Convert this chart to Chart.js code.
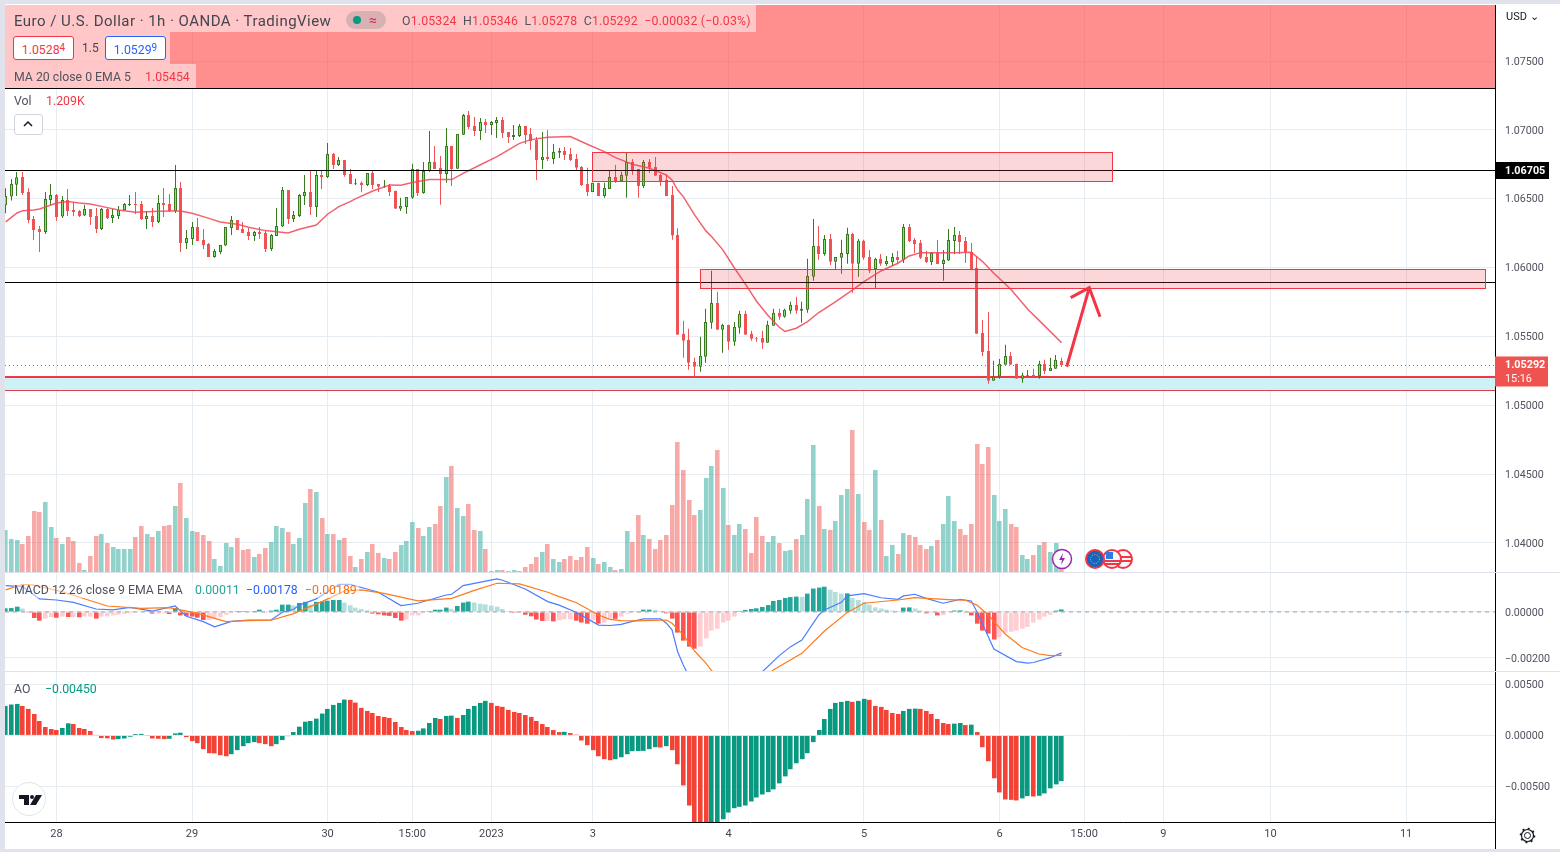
<!DOCTYPE html>
<html>
<head>
<meta charset="utf-8">
<title>EURUSD 1h</title>
<script src="https://cdn.jsdelivr.net/npm/chart.js@4"></script>
<style>
  html, body { margin: 0; padding: 0; background: #fff; overflow: hidden; }
  body { width: 1560px; height: 852px; position: relative; font-family: Roboto, sans-serif; color: #50535e; }
  canvas { position: absolute; left: 0; }
  .abs { position: absolute; white-space: nowrap; }
  .txt { font-size: 12.3px; line-height: 16px; }
  .red { color: #f23645; }
  .strip { position: absolute; background: #e0e3eb; }
  .sup { font-size: 10px; vertical-align: 3px; }
</style>
</head>
<body>
<canvas id="mainChart" width="1560" height="572" style="top:0"></canvas>
<canvas id="macdChart" width="1560" height="99" style="top:572px"></canvas>
<canvas id="aoChart" width="1560" height="180" style="top:672px"></canvas>

<div class="strip" style="left:0;top:0;width:5px;height:852px"></div>
<div class="strip" style="left:0;top:0;width:1560px;height:4px"></div>
<div class="strip" style="left:0;top:849px;width:1560px;height:3px"></div>
<div class="strip" style="left:5px;top:572px;width:1555px;height:1px"></div>
<div class="strip" style="left:5px;top:671px;width:1555px;height:1px"></div>
<div class="abs" style="left:1495px;top:822px;width:1px;height:27px;background:#000"></div>

<div class="abs" style="left:5px;top:5px;width:751px;height:27px;background:rgba(255,255,255,.5)"></div>
<div class="abs" style="left:5px;top:32px;width:165px;height:32px;background:rgba(255,255,255,.5)"></div>
<div class="abs" style="left:5px;top:64px;width:191px;height:24px;background:rgba(255,255,255,.5)"></div>

<div class="abs" style="left:14px;top:12px;font-size:15px;line-height:18px;letter-spacing:.47px;color:#434651">Euro / U.S. Dollar · 1h · OANDA · TradingView</div>
<div class="abs" style="left:346px;top:11px;width:40px;height:18px;border-radius:9px;background:rgba(200,170,170,.7)"></div>
<div class="abs" style="left:353px;top:16px;width:8px;height:8px;border-radius:4px;background:#089981"></div>
<div class="abs red" style="left:369px;top:11px;font-size:14px;line-height:18px;color:#e91e63">≈</div>
<div class="abs txt" style="left:402px;top:13px;color:#50535e;letter-spacing:.18px">O<span class="red">1.05324</span>&nbsp; H<span class="red">1.05346</span>&nbsp; L<span class="red">1.05278</span>&nbsp; C<span class="red">1.05292</span>&nbsp; <span class="red">−0.00032 (−0.03%)</span></div>

<div class="abs txt red" style="left:13px;top:36px;width:59px;height:22px;line-height:22px;text-align:center;background:#fff;border:1px solid #f23645;border-radius:3px">1.0528<span class="sup">4</span></div>
<div class="abs" style="left:82px;top:40px;font-size:12px;line-height:16px;color:#434651">1.5</div>
<div class="abs txt" style="left:105px;top:36px;width:59px;height:22px;line-height:22px;text-align:center;background:#fff;border:1px solid #2962ff;border-radius:3px;color:#2962ff">1.0529<span class="sup">9</span></div>
<div class="abs txt" style="left:14px;top:69px">MA 20 close 0 EMA 5</div>
<div class="abs txt red" style="left:145px;top:69px">1.05454</div>

<div class="abs txt" style="left:14px;top:93px">Vol</div>
<div class="abs txt red" style="left:46px;top:93px">1.209K</div>
<div class="abs" style="left:14px;top:114px;width:27px;height:19px;border:1px solid #d1d4dc;border-radius:3px;background:#fff"></div>
<svg class="abs" style="left:22px;top:120px" width="12" height="8"><path d="M2 6 L6 2 L10 6" fill="none" stroke="#131722" stroke-width="1.5"/></svg>

<div class="abs" style="left:1506px;top:10px;font-size:11px;line-height:14px;color:#131722">USD ⌄</div>

<div class="abs" style="left:14px;top:582px;width:345px;height:16px;background:rgba(255,255,255,.5)"></div>
<div class="abs txt" style="left:14px;top:582px">MACD 12 26 close 9 EMA EMA</div>
<div class="abs txt" style="left:195px;top:582px;color:#26a69a">0.00011</div>
<div class="abs txt" style="left:246px;top:582px;color:#2962ff">−0.00178</div>
<div class="abs txt" style="left:305px;top:582px;color:#ff6d00">−0.00189</div>
<div class="abs txt" style="left:14px;top:681px">AO</div>
<div class="abs txt" style="left:45px;top:681px;color:#089981">−0.00450</div>

<svg class="abs" style="left:1051px;top:548px" width="84" height="22">
  <circle cx="11" cy="11" r="9.5" fill="#fff" stroke="#9c27b0" stroke-width="1.5"/>
  <path d="M12 5 L8 12 L11 12 L10 17 L14 10 L11 10 Z" fill="#9c27b0"/>
  <circle cx="72" cy="11" r="9" fill="#f7f7f7" stroke="#f23645" stroke-width="2"/>
  <path d="M64 9 H80 M64 13 H80" stroke="#f23645" stroke-width="2"/>
  <circle cx="61" cy="11" r="9" fill="#f7f7f7" stroke="#f23645" stroke-width="2"/>
  <path d="M53 13 H69 M54 16 H68" stroke="#f23645" stroke-width="2"/>
  <rect x="55" y="4" width="7" height="7" fill="#2a7de1"/>
  <circle cx="44" cy="11" r="9" fill="#1565c0" stroke="#f23645" stroke-width="2"/>
  <circle cx="44" cy="11" r="4.5" fill="none" stroke="#fbc02d" stroke-width="1" stroke-dasharray="1 1.5"/>
</svg>

<svg class="abs" style="left:12px;top:782px" width="34" height="34">
  <circle cx="17" cy="17" r="16.5" fill="#fff" stroke="#e0e3eb"/>
  <path d="M7 13 H17 V23 H12 V17 H7 Z M24 13 H30 L24 23 H18 Z" fill="#131722"/>
  <circle cx="20" cy="15" r="2" fill="#131722"/>
</svg>

<svg class="abs" style="left:1519px;top:827px" width="17" height="17">
  <circle cx="8.5" cy="8.5" r="3" fill="none" stroke="#131722"/>
  <circle cx="8.5" cy="8.5" r="6" fill="none" stroke="#131722" stroke-width="1.2"/>
  <circle cx="8.5" cy="8.5" r="7" fill="none" stroke="#131722" stroke-width="1.6" stroke-dasharray="2 3.5"/>
</svg>

<script>
const open = [
  1.06453,1.06516,1.06603,1.06659,1.06550,1.06354,1.06281,1.06259,1.06492,1.06528,
  1.06371,1.06492,1.06419,1.06412,1.06378,1.06426,1.06375,1.06281,1.06426,1.06361,
  1.06375,1.06417,1.06455,1.06463,1.06463,1.06354,1.06375,1.06332,1.06470,1.06463,
  1.06412,1.06579,1.06179,1.06208,1.06296,1.06201,1.06172,1.06078,1.06114,1.06160,
  1.06288,1.06346,1.06281,1.06259,1.06230,1.06259,1.06252,1.06136,1.06230,1.06298,
  1.06564,1.06354,1.06375,1.06521,1.06550,1.06441,1.06673,1.06659,1.06826,1.06746,
  1.06782,1.06681,1.06606,1.06616,1.06601,1.06688,1.06608,1.06587,1.06594,1.06558,
  1.06427,1.06441,1.06507,1.06717,1.06543,1.06700,1.06768,1.06725,1.06681,1.06884,
  1.06719,1.06966,1.07109,1.07029,1.06993,1.07058,1.07036,1.07051,1.07072,1.06985,
  1.06949,1.06957,1.07029,1.06971,1.06927,1.06782,1.06804,1.06790,1.06834,1.06848,
  1.06826,1.06790,1.06732,1.06608,1.06550,1.06616,1.06521,1.06572,1.06659,1.06630,
  1.06667,1.06768,1.06717,1.06594,1.06768,1.06732,1.06674,1.06637,1.06528,1.06238,
  1.05519,1.05476,1.05316,1.05280,1.05352,1.05599,1.05744,1.05548,1.05585,1.05461,
  1.05563,1.05665,1.05519,1.05490,1.05490,1.05454,1.05577,1.05672,1.05643,1.05686,
  1.05730,1.05686,1.05694,1.05933,1.06158,1.06100,1.06209,1.06042,1.06071,1.06100,
  1.06245,1.06028,1.06195,1.06078,1.05991,1.06064,1.06027,1.06041,1.06078,1.06056,
  1.06296,1.06201,1.06179,1.06078,1.06041,1.06107,1.06027,1.06051,1.06194,1.06237,
  1.06194,1.06114,1.05998,1.05526,1.05395,1.05178,1.05209,1.05294,1.05359,1.05301,
  1.05192,1.05211,1.05221,1.05211,1.05301,1.05250,1.05265,1.05324
];
const high = [
  1.06576,1.06644,1.06695,1.06695,1.06576,1.06375,1.06303,1.06550,1.06608,1.06535,
  1.06521,1.06571,1.06472,1.06419,1.06455,1.06426,1.06434,1.06434,1.06431,1.06426,
  1.06448,1.06470,1.06528,1.06550,1.06484,1.06412,1.06434,1.06528,1.06579,1.06535,
  1.06746,1.06622,1.06274,1.06332,1.06361,1.06281,1.06179,1.06136,1.06165,1.06296,
  1.06375,1.06346,1.06332,1.06288,1.06267,1.06296,1.06267,1.06245,1.06434,1.06586,
  1.06564,1.06412,1.06535,1.06673,1.06709,1.06702,1.06709,1.06905,1.06833,1.06804,
  1.06782,1.06717,1.06645,1.06625,1.06688,1.06710,1.06608,1.06637,1.06608,1.06558,
  1.06507,1.06514,1.06754,1.06717,1.06768,1.06993,1.06884,1.06811,1.07015,1.06884,
  1.06971,1.07116,1.07138,1.07094,1.07087,1.07080,1.07065,1.07094,1.07094,1.06985,
  1.07036,1.07043,1.07029,1.07015,1.06949,1.06985,1.07000,1.06898,1.06870,1.06877,
  1.06870,1.06826,1.06739,1.06725,1.06616,1.06616,1.06616,1.06710,1.06746,1.06696,
  1.06834,1.06790,1.06717,1.06782,1.06790,1.06804,1.06681,1.06673,1.06594,1.06286,
  1.05614,1.05556,1.05345,1.05498,1.05701,1.05977,1.05824,1.05592,1.05585,1.05606,
  1.05686,1.05686,1.05541,1.05497,1.05541,1.05614,1.05701,1.05701,1.05701,1.05752,
  1.05788,1.05752,1.06064,1.06354,1.06303,1.06238,1.06245,1.06078,1.06202,1.06289,
  1.06253,1.06209,1.06202,1.06129,1.06071,1.06100,1.06085,1.06107,1.06121,1.06317,
  1.06317,1.06216,1.06201,1.06121,1.06114,1.06201,1.06129,1.06281,1.06296,1.06267,
  1.06223,1.06179,1.06085,1.05620,1.05678,1.05323,1.05337,1.05439,1.05388,1.05301,
  1.05236,1.05257,1.05265,1.05323,1.05330,1.05345,1.05366,1.05346
];
const low = [
  1.06395,1.06487,1.06521,1.06528,1.06322,1.06201,1.06114,1.06245,1.06455,1.06339,
  1.06361,1.06375,1.06375,1.06368,1.06375,1.06310,1.06252,1.06274,1.06354,1.06325,
  1.06354,1.06412,1.06448,1.06390,1.06346,1.06281,1.06296,1.06325,1.06368,1.06404,
  1.06397,1.06114,1.06136,1.06165,1.06194,1.06136,1.06078,1.06071,1.06100,1.06158,
  1.06237,1.06274,1.06252,1.06201,1.06194,1.06208,1.06114,1.06121,1.06230,1.06296,
  1.06317,1.06332,1.06368,1.06455,1.06383,1.06368,1.06571,1.06651,1.06717,1.06738,
  1.06661,1.06608,1.06601,1.06548,1.06594,1.06572,1.06550,1.06579,1.06521,1.06427,
  1.06412,1.06391,1.06500,1.06521,1.06536,1.06696,1.06717,1.06456,1.06616,1.06594,
  1.06717,1.06964,1.07007,1.06957,1.06927,1.06978,1.06964,1.06942,1.06942,1.06906,
  1.06927,1.06949,1.06898,1.06855,1.06637,1.06717,1.06775,1.06753,1.06797,1.06782,
  1.06775,1.06710,1.06594,1.06521,1.06550,1.06521,1.06507,1.06572,1.06616,1.06630,
  1.06507,1.06674,1.06507,1.06579,1.06688,1.06667,1.06594,1.06521,1.06202,1.05512,
  1.05345,1.05258,1.05205,1.05243,1.05309,1.05556,1.05548,1.05381,1.05403,1.05432,
  1.05519,1.05512,1.05469,1.05461,1.05410,1.05454,1.05577,1.05621,1.05636,1.05665,
  1.05665,1.05599,1.05672,1.05904,1.06057,1.06086,1.06020,1.05991,1.05955,1.06028,
  1.05817,1.05933,1.06057,1.05962,1.05853,1.06013,1.06012,1.06012,1.06034,1.06034,
  1.06187,1.06107,1.06063,1.06034,1.06020,1.06027,1.05904,1.06049,1.06100,1.06100,
  1.06034,1.05988,1.05519,1.05359,1.05156,1.05178,1.05192,1.05294,1.05294,1.05192,
  1.05163,1.05211,1.05204,1.05192,1.05228,1.05250,1.05265,1.05278
];
const close = [
  1.06521,1.06608,1.06656,1.06542,1.06346,1.06274,1.06259,1.06499,1.06528,1.06368,
  1.06492,1.06412,1.06404,1.06375,1.06426,1.06368,1.06281,1.06426,1.06361,1.06383,
  1.06419,1.06463,1.06460,1.06455,1.06354,1.06375,1.06332,1.06470,1.06455,1.06412,
  1.06579,1.06179,1.06216,1.06296,1.06194,1.06165,1.06078,1.06121,1.06165,1.06296,
  1.06346,1.06274,1.06252,1.06230,1.06259,1.06245,1.06136,1.06237,1.06303,1.06564,
  1.06354,1.06383,1.06528,1.06550,1.06441,1.06673,1.06659,1.06826,1.06746,1.06782,
  1.06673,1.06608,1.06613,1.06601,1.06688,1.06601,1.06587,1.06592,1.06550,1.06427,
  1.06449,1.06514,1.06717,1.06543,1.06703,1.06768,1.06717,1.06681,1.06884,1.06717,
  1.06971,1.07109,1.07022,1.06993,1.07058,1.07036,1.07058,1.07072,1.06978,1.06949,
  1.06964,1.07029,1.06964,1.06920,1.06782,1.06804,1.06790,1.06841,1.06848,1.06819,
  1.06782,1.06725,1.06601,1.06550,1.06616,1.06521,1.06579,1.06659,1.06623,1.06674,
  1.06768,1.06710,1.06594,1.06768,1.06725,1.06667,1.06623,1.06521,1.06233,1.05512,
  1.05469,1.05309,1.05280,1.05360,1.05606,1.05744,1.05548,1.05585,1.05461,1.05570,
  1.05665,1.05512,1.05483,1.05483,1.05454,1.05585,1.05672,1.05643,1.05694,1.05730,
  1.05686,1.05701,1.05940,1.06158,1.06100,1.06209,1.06042,1.06078,1.06107,1.06245,
  1.06028,1.06195,1.06071,1.05977,1.06064,1.06028,1.06049,1.06078,1.06056,1.06296,
  1.06194,1.06172,1.06071,1.06041,1.06107,1.06027,1.06056,1.06201,1.06237,1.06187,
  1.06114,1.05988,1.05519,1.05388,1.05178,1.05209,1.05301,1.05359,1.05294,1.05192,
  1.05219,1.05219,1.05211,1.05301,1.05250,1.05272,1.05330,1.05292
];
const volume = [
  4200,3300,3200,2800,3600,6100,6000,7000,4500,3400,
  2800,3500,3100,900,200,1600,3600,3800,2900,2500,
  2300,2300,2300,3500,4600,3800,3500,4100,4600,4700,
  6600,8900,5400,4100,4000,3700,3100,1300,600,2900,
  2500,3400,2200,2300,1500,1800,2400,3000,4600,4400,
  4000,2800,3400,6900,8300,8000,5400,3800,3800,3200,
  3400,1600,500,1300,2000,2800,1900,1400,1300,2000,
  2700,3100,5000,4400,3600,4500,4800,6600,9500,10600,
  6400,5600,6800,4200,4100,2300,100,200,200,100,
  200,100,500,800,1500,2000,2800,1300,1000,1300,
  1600,1200,1500,2500,1400,800,1000,500,200,300,
  4100,3000,5700,3700,3300,2300,3200,3700,6700,13000,
  10200,7200,5700,6200,9400,10600,12200,8400,4700,3700,
  4800,4300,1900,5500,3600,3000,3600,2900,2100,2200,
  3300,3700,7300,12700,6600,4300,4200,5100,7700,8300,
  14200,7800,5000,4200,10200,5200,1600,2700,1800,3900,
  3700,3500,2700,2300,2600,3200,4800,7600,5100,4300,
  3700,4800,12800,10800,12500,7700,5100,6300,4800,4500,
  1700,1300,1700,2700,3000,2000,2900,1209
];
const maIdx = [0,2,3,5,6,9,11,13,15,18,20,23,26,29,31,33,36,38,41,43,46,50,52,55,57,59,61,
  62,65,68,70,72,75,79,81,84,87,91,93,96,100,103,106,108,111,114,117,118,119,
  120,122,124,125,127,129,131,133,135,137,138,140,142,144,147,150,152,155,158,160,
  162,165,168,171,173,175,178,181,184,187];
const maVal = [1.06332,1.06397,1.06414,1.06419,1.06426,1.06470,1.06480,1.06470,1.06463,1.06436,1.06419,1.06402,1.06407,1.06412,1.06412,1.06395,1.06358,1.06332,1.06315,1.06293,1.06269,1.06252,1.06279,1.06310,1.06388,1.06443,1.06480,
  1.06501,1.06557,1.06601,1.06598,1.06618,1.06640,1.06640,1.06685,1.06746,1.06806,1.06903,1.06930,1.06947,1.06952,1.06896,1.06843,1.06799,1.06751,1.06722,1.06673,1.06637,1.06564,
  1.06516,1.06383,1.06267,1.06226,1.06129,1.06001,1.05880,1.05754,1.05652,1.05567,1.05536,1.05560,1.05608,1.05674,1.05754,1.05838,1.05899,1.05976,1.06032,1.06085,
  1.06109,1.06109,1.06109,1.06112,1.06044,1.05959,1.05843,1.05698,1.05577,1.05454];
const macdHist = [
  .00016,.00017,.00023,.00015,-.00001,-.00026,-.00038,-.00029,-.00022,-.00025,
  -.00020,-.00022,-.00022,-.00023,-.00020,-.00020,-.00029,-.00020,-.00019,-.00015,
  -.00012,-.00009,-.00006,-.00003,0,.00001,-.00007,-.00007,-.00006,-.00009,
  .00017,-.00015,-.00017,-.00020,-.00025,-.00035,-.00035,-.00029,-.00023,-.00012,
  -.00001,.00004,.00004,.00003,.00004,.00010,-.00003,.00006,.00010,.00032,
  .00032,.00028,.00039,.00044,.00032,.00044,.00046,.00049,.00052,.00052,
  .00041,.00029,.00019,.00013,.00007,-.00007,-.00010,-.00015,-.00017,-.00026,
  -.00038,-.00033,-.00015,-.00015,-.00003,.00004,.00010,.00010,.00019,.00013,
  .00026,.00041,.00045,.00041,.00036,.00033,.00028,.00023,.00013,.00003,
  -.00004,-.00004,-.00012,-.00019,-.00033,-.00039,-.00039,-.00041,-.00036,-.00032,
  -.00032,-.00038,-.00046,-.00051,-.00036,-.00051,-.00046,-.00029,-.00030,-.00020,
  -.00007,.00003,-.00003,.00010,.00010,.00009,.00004,-.00006,-.00029,-.00090,
  -.00125,-.00151,-.00160,-.00151,-.00115,-.00081,-.00073,-.00046,-.00038,-.00020,
  .00004,.00009,.00013,.00016,.00022,.00030,.00048,.00052,.00061,.00065,
  .00067,.00066,.00080,.00102,.00106,.00110,.00097,.00087,.00080,.00081,
  .00061,.00052,.00044,.00032,.00020,.00015,.00010,.00006,.00004,.00019,
  .00020,.00015,.00006,-.00006,-.00005,-.00015,-.00014,-.00003,.00006,.00007,
  -.00003,-.00015,-.00051,-.00081,-.00094,-.00120,-.00110,-.00090,-.00086,-.00081,
  -.00073,-.00065,-.00046,-.00033,-.00020,-.00012,.00006,.00011
];
const macdIdx = [0,3,6,9,12,16,19,22,26,30,32,35,37,40,43,47,49,51,52,55,57,59,61,64,66,70,73,78,79,81,87,88,92,96,98,
  101,105,107,109,111,113,116,117,118,119,120,121,124,128,132,134,137,139,141,144,145,148,149,152,155,158,159,161,163,166,169,171,172,174,175,179,181,182,185,187];
const macdVal = [.00115,.00110,.00057,.00052,.00042,.00013,.00009,.00020,.00004,.00026,-.00019,-.00042,-.00065,-.00041,-.00035,-.00035,-.00001,.00012,.00030,.00057,.00088,.00120,.00120,.00100,.00086,.00028,.00038,.00074,.00077,.00115,.00144,.00138,.00100,.00045,.00030,
  -.00001,-.00057,-.00059,-.00054,-.00041,-.00030,-.00030,-.00049,-.00078,-.00173,-.00231,-.00281,-.00360,-.00380,-.00320,-.00260,-.00190,-.00151,-.00122,-.00013,.00009,.00042,.00070,.00080,.00062,.00055,.00070,.00077,.00059,.00038,.00055,.00048,.00001,-.00107,-.00161,-.00216,-.00223,-.00220,-.00199,-.00178];
const signalIdx = [0,3,5,10,18,24,29,34,39,43,47,51,56,60,63,67,73,79,83,87,91,96,98,
  101,105,107,109,112,117,118,120,122,124,125,128,132,135,136,141,145,149,152,158,161,167,170,172,174,177,180,183,185,187];
const signalVal = [.00096,.00120,.00117,.00088,.00026,.00016,.00019,-.00006,-.00042,-.00038,-.00036,-.00007,.00045,.00091,.00096,.00081,.00048,.00059,.00094,.00125,.00122,.00086,.00067,
  .00041,-.00013,-.00032,-.00038,-.00039,-.00035,-.00049,-.00100,-.00170,-.00223,-.00255,-.00330,-.00310,-.00270,-.00252,-.00180,-.00083,-.00003,.00038,.00052,.00062,.00054,.00051,.00030,-.00013,-.00096,-.00155,-.00183,-.00190,-.00189];
const aoVal = [
  .00290,.00304,.00310,.00290,.00261,.00211,.00142,.00083,.00063,.00053,
  .00073,.00119,.00112,.00073,.00063,.00043,.00003,-.00026,-.00028,-.00040,
  -.00036,-.00030,-.00013,.00013,.00015,-.00003,-.00030,-.00033,-.00036,-.00033,
  .00020,.00026,-.00017,-.00056,-.00076,-.00135,-.00175,-.00177,-.00195,-.00205,
  -.00185,-.00145,-.00106,-.00076,-.00066,-.00076,-.00086,-.00106,-.00086,-.00046,
  -.00007,.00033,.00086,.00135,.00142,.00165,.00215,.00261,.00300,.00320,
  .00353,.00350,.00323,.00271,.00241,.00221,.00191,.00182,.00172,.00132,
  .00083,.00053,.00043,.00046,.00069,.00122,.00172,.00162,.00191,.00195,
  .00172,.00201,.00261,.00290,.00320,.00340,.00320,.00290,.00281,.00251,
  .00231,.00221,.00201,.00182,.00142,.00112,.00083,.00053,.00033,.00035,
  .00023,.00008,-.00050,-.00096,-.00145,-.00205,-.00234,-.00244,-.00234,-.00215,
  -.00185,-.00155,-.00154,-.00152,-.00135,-.00116,-.00119,-.00106,-.00145,-.00284,
  -.00492,-.00690,-.00891,-.00940,-.00957,-.00940,-.00891,-.00825,-.00759,-.00716,
  -.00703,-.00690,-.00650,-.00611,-.00581,-.00558,-.00531,-.00472,-.00403,-.00333,
  -.00274,-.00234,-.00175,-.00066,.00053,.00162,.00261,.00320,.00330,.00340,
  .00330,.00340,.00360,.00350,.00290,.00281,.00251,.00221,.00211,.00241,
  .00261,.00264,.00261,.00241,.00211,.00162,.00122,.00112,.00116,.00122,
  .00102,.00106,.00033,-.00116,-.00254,-.00422,-.00561,-.00630,-.00634,-.00640,
  -.00620,-.00597,-.00601,-.00594,-.00571,-.00521,-.00482,-.00450
];
const priceTicks = [1.04,1.045,1.05,1.055,1.06,1.065,1.07,1.075];
const macdTicks = [0,-0.002];
const aoTicks = [0.005,0,-0.005];
const timePos = [9,33,57,72,86,104,128,152,176,191,205,224,248];
const timeLabels = ['28','29','30','15:00','2023','3','4','5','6','15:00','9','10','11'];
const hours = close.map((c, i) => i);

// drawings on the price pane: [from bar, to bar, top price, bottom price]
const zones = [[103.8,195.9,1.0684,1.0663],[122.9,262,1.0599,1.05853]];
const levels = [1.06705,1.05889];
const arrow = [[187.9,1.0528],[191.9,1.05854]];
const arrowHeads = [[188.6,1.05782],[193.8,1.05644]];
const lastPrice = 1.05292;
const blueBand = [1.05202,1.05104];
const topBand = 1.07298;

const xMin = -0.124, xMax = 263.75;
const green = '#7ce87a', greenDark = '#3a7a1e', redCandle = '#f05153';
const isUp = hours.map(i => close[i] >= open[i]);
const pairs = (idx, val) => idx.map((x, k) => ({x: x, y: val[k]}));

function xAxis(withLabels) {
  return {
    type: 'linear', min: xMin, max: xMax, offset: false,
    afterBuildTicks: s => { s.ticks = timePos.map(v => ({value: v})); },
    afterFit: s => {
      s.height = withLabels ? 30 : 0;
      s.paddingLeft = 0; s.paddingRight = 0;
    },
    border: {display: withLabels, color: '#000'},
    grid: {color: '#e5edf3', drawTicks: false, offset: false},
    ticks: {
      display: withLabels, autoSkip: false, maxRotation: 0, padding: 6,
      color: '#434651', font: {family: 'Roboto', size: 11},
      callback: v => timeLabels[timePos.indexOf(v)]
    }
  };
}
function yAxis(min, max, tickList) {
  return {
    position: 'right', min: min, max: max,
    afterBuildTicks: s => { s.ticks = tickList.map(v => ({value: v})); },
    afterFit: s => {
      s.width = 65;
      s.paddingTop = 0; s.paddingBottom = 0;
    },
    border: {color: '#000'},
    grid: {color: '#e5edf3', drawTicks: false},
    ticks: {
      padding: 10, labelOffset: 1, color: '#50535e', font: {family: 'Roboto', size: 10.7},
      callback: v => (v < 0 ? '−' : '') + Math.abs(v).toFixed(5)
    }
  };
}
const baseOptions = {
  responsive: false, animation: false, events: [],
  layout: {padding: {left: 5}},
  plugins: {legend: {display: false}, tooltip: {enabled: false}}
};
// snap the bars to whole pixels so wicks stay sharp
const snapBars = {
  id: 'snapBars',
  beforeDatasetsDraw(chart) {
    chart.data.datasets.forEach((ds, n) => {
      if (ds.type === 'line') return;
      chart.getDatasetMeta(n).data.forEach(b => {
        b.x = Math.round(b.x - b.width / 2) + b.width / 2;
      });
    });
  }
};
const rowOf = (y, p) => Math.round(y.getPixelForValue(p) - .5);
const drawings = {
  id: 'drawings',
  beforeDatasetsDraw(chart) {
    const c = chart.ctx, y = chart.scales.y, a = chart.chartArea;
    // lower band sits behind the candles
    const b1 = rowOf(y, blueBand[0]), b2 = rowOf(y, blueBand[1]);
    c.save();
    c.fillStyle = '#cdf2f5';
    c.fillRect(a.left, b1, a.width, b2 - b1);
    c.fillStyle = '#f23645';
    c.fillRect(a.left, b1 - 1, a.width, 2);
    c.fillStyle = '#d9404f';
    c.fillRect(a.left, b2, a.width, 1);
    c.restore();
  },
  afterDatasetsDraw(chart) {
    const c = chart.ctx, x = chart.scales.x, y = chart.scales.y, a = chart.chartArea;
    c.save();
    c.beginPath(); c.rect(a.left, a.top, a.width, a.height); c.clip();
    // top band
    const tb = rowOf(y, topBand);
    c.fillStyle = 'rgba(255,76,76,.63)';
    c.fillRect(a.left, a.top, a.width, tb - a.top);
    c.fillStyle = '#000';
    c.fillRect(a.left, tb, a.width, 1);
    // levels
    levels.forEach(l => c.fillRect(a.left, rowOf(y, l), a.width, 1));
    // zones
    zones.forEach(z => {
      const x1 = Math.round(x.getPixelForValue(z[0])) + .5, x2 = Math.round(x.getPixelForValue(z[1])) + .5;
      const y1 = Math.round(y.getPixelForValue(z[2])) + .5, y2 = Math.round(y.getPixelForValue(z[3])) + .5;
      c.fillStyle = 'rgba(242,54,69,.2)';
      c.fillRect(x1, y1, x2 - x1, y2 - y1);
      c.strokeStyle = '#f23645';
      c.lineWidth = 1;
      c.strokeRect(x1, y1, x2 - x1, y2 - y1);
    });
    // last price dots
    c.strokeStyle = '#ef5350';
    c.setLineDash([1, 3]);
    const lp = rowOf(y, lastPrice) + .5;
    c.beginPath(); c.moveTo(a.left, lp); c.lineTo(a.right, lp); c.stroke();
    c.setLineDash([]);
    // arrow
    c.strokeStyle = '#f23645';
    c.lineWidth = 3;
    const tip = [x.getPixelForValue(arrow[1][0]), y.getPixelForValue(arrow[1][1])];
    c.beginPath();
    c.moveTo(x.getPixelForValue(arrow[0][0]), y.getPixelForValue(arrow[0][1]));
    c.lineTo(tip[0], tip[1]);
    c.moveTo(x.getPixelForValue(arrowHeads[0][0]), y.getPixelForValue(arrowHeads[0][1]));
    c.lineTo(tip[0], tip[1]);
    c.lineTo(x.getPixelForValue(arrowHeads[1][0]), y.getPixelForValue(arrowHeads[1][1]));
    c.stroke();
    c.restore();
    // price tags on the axis
    c.save();
    c.textBaseline = 'middle';
    c.font = 'bold 10.8px Roboto';
    const t1 = rowOf(y, levels[0]);
    c.fillStyle = '#000';
    c.fillRect(a.right, t1 - 8, 54, 17);
    c.fillStyle = '#fff';
    c.fillText(levels[0].toFixed(5), a.right + 10, t1 + 1);
    c.fillStyle = '#ef5350';
    c.fillRect(a.right, lp - 9, 53, 30);
    c.fillStyle = '#fff';
    c.fillText(lastPrice.toFixed(5), a.right + 10, lp);
    c.font = '10.8px Roboto';
    c.fillText('15:16', a.right + 10, lp + 14);
    c.restore();
  }
};

new Chart(document.getElementById('mainChart').getContext('2d'), {
  data: {
    labels: hours,
    datasets: [
      {type: 'line', order: 1, data: pairs(maIdx, maVal), borderColor: 'rgba(240,70,85,.85)', borderWidth: 1.5, pointRadius: 0, yAxisID: 'y'},
      {type: 'bar', order: 2, grouped: false, data: hours.map(i => [open[i], close[i]]), yAxisID: 'y', barThickness: 3, minBarLength: 1, inflateAmount: 0,
        backgroundColor: isUp.map(u => u ? green : redCandle), borderColor: isUp.map(u => u ? greenDark : redCandle), borderWidth: 1, borderSkipped: false},
      {type: 'bar', order: 3, grouped: false, data: hours.map(i => [low[i], high[i]]), yAxisID: 'y', barThickness: 1, inflateAmount: 0,
        backgroundColor: isUp.map(u => u ? greenDark : redCandle)},
      {type: 'bar', order: 4, grouped: false, data: volume, yAxisID: 'yVol', barThickness: 4.6, inflateAmount: 0,
        backgroundColor: isUp.map(u => u ? 'rgba(38,166,154,.5)' : 'rgba(239,83,80,.5)')}
    ]
  },
  options: Object.assign({}, baseOptions, {
    layout: {padding: {left: 5, top: 5}},
    scales: {
      x: xAxis(false),
      y: yAxis(1.03789, 1.07908, priceTicks),
      yVol: {display: false, min: 0, max: 56700}
    }
  }),
  plugins: [snapBars, drawings]
});

new Chart(document.getElementById('macdChart').getContext('2d'), {
  data: {
    labels: hours,
    datasets: [
      {type: 'line', order: 1, data: pairs(signalIdx, signalVal), borderColor: '#ff7a1a', borderWidth: 1.2, pointRadius: 0},
      {type: 'line', order: 2, data: pairs(macdIdx, macdVal), borderColor: '#4a7dff', borderWidth: 1.2, pointRadius: 0},
      {type: 'line', order: 3, data: [{x: xMin, y: 0}, {x: xMax, y: 0}], borderColor: '#9aa0a8', borderWidth: 1, borderDash: [4, 4], pointRadius: 0},
      {type: 'bar', order: 4, data: macdHist, barThickness: 4.6, inflateAmount: 0,
        backgroundColor: macdHist.map((v, i) => {
          const rising = i === 0 || v >= macdHist[i - 1];
          if (v >= 0) return rising ? '#26a69a' : '#b2dfdb';
          return rising ? '#ffcdd2' : '#ff5252';
        })}
    ]
  },
  options: Object.assign({}, baseOptions, {
    scales: {x: xAxis(false), y: yAxis(-0.00257, 0.00174, macdTicks)}
  }),
  plugins: [snapBars]
});

new Chart(document.getElementById('aoChart').getContext('2d'), {
  data: {
    labels: hours,
    datasets: [
      {type: 'bar', data: aoVal, barThickness: 4.6, inflateAmount: 0,
        backgroundColor: aoVal.map((v, i) => (i === 0 || v > aoVal[i - 1]) ? '#089981' : '#f44336')}
    ]
  },
  options: Object.assign({}, baseOptions, {
    scales: {x: xAxis(true), y: yAxis(-0.00852, 0.00624, aoTicks)}
  }),
  plugins: [snapBars]
});
</script>
</body>
</html>
